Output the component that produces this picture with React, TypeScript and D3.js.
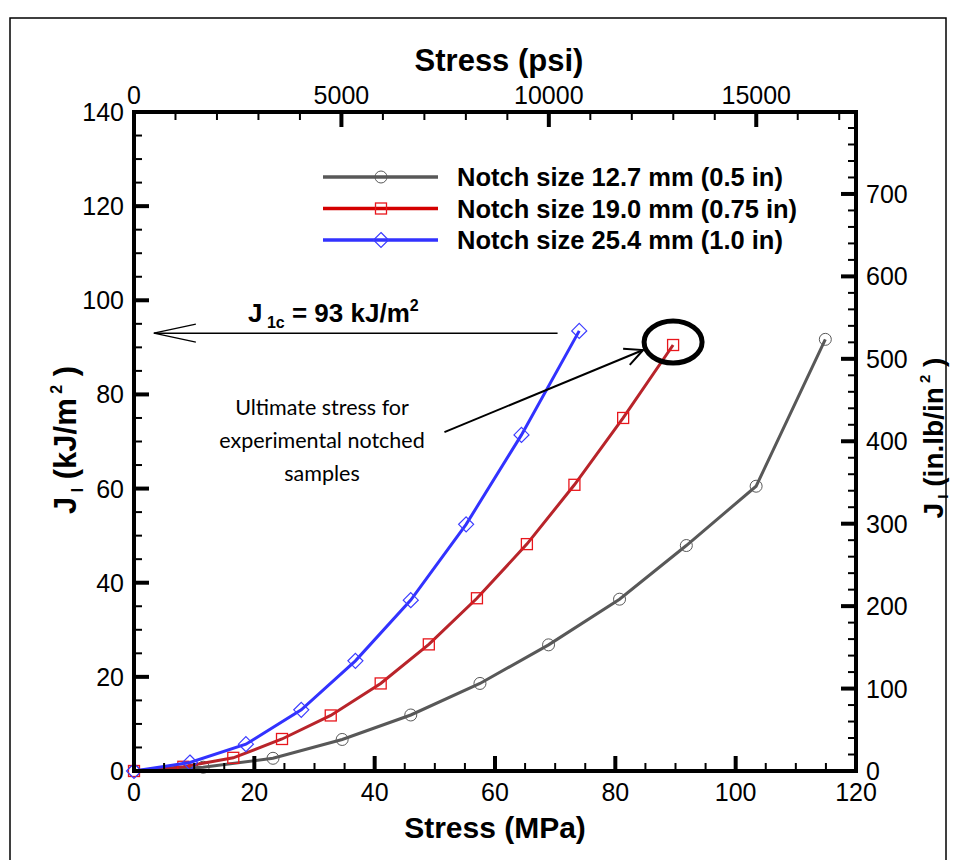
import * as d3 from "d3";

// notch 12.7 mm (0.5 in)
const grayStress = [0, 11.5, 23.1, 34.6, 46.0, 57.5, 68.9, 80.7, 91.8, 103.4, 114.9];
const grayJ = [0, 0.8, 2.7, 6.7, 11.9, 18.6, 26.8, 36.5, 47.9, 60.5, 91.7];
// notch 19.0 mm (0.75 in)
const redStress = [0, 8.2, 16.5, 24.6, 32.7, 41.0, 49.0, 57.0, 65.3, 73.2, 81.3, 89.6];
const redJ = [0, 0.9, 2.8, 6.8, 11.8, 18.6, 26.9, 36.7, 48.2, 60.8, 75.0, 90.5];
// notch 25.4 mm (1.0 in)
const blueStress = [0, 9.3, 18.6, 27.8, 36.8, 46.0, 55.2, 64.4, 74.0];
const blueJ = [0, 1.8, 5.7, 13.0, 23.4, 36.3, 52.4, 71.4, 93.5];

const seriesNames = [
  "Notch size 12.7 mm (0.5 in)",
  "Notch size 19.0 mm (0.75 in)",
  "Notch size 25.4 mm (1.0 in)",
];

const mpaTicks = [0, 20, 40, 60, 80, 100, 120];
const psiTicks = [0, 5000, 10000, 15000];
const kjTicks = [0, 20, 40, 60, 80, 100, 120, 140];
const inlbTicks = [100, 200, 300, 400, 500, 600, 700, 0];

const J1C = 93;
const PSI_PER_MPA = 145.0377;
const INLB_PER_KJ = 5.71015;

const W = 956;
const H = 860;
const left = 134;
const right = 856;
const top = 112;
const bottom = 771;

const font = "'Liberation Sans', Arial, sans-serif";

export default function App() {
  const x = d3.scaleLinear().domain([0, 120]).range([left, right]);
  const y = d3.scaleLinear().domain([0, 140]).range([bottom, top]);
  const xPsi = d3.scaleLinear().domain([0, 120 * PSI_PER_MPA]).range([left, right]);
  const yIn = d3.scaleLinear().domain([0, 140 * INLB_PER_KJ]).range([bottom, top]);

  const line = d3
    .line<[number, number]>()
    .x((d) => x(d[0]))
    .y((d) => y(d[1]))
    .curve(d3.curveLinear);

  const series = [
    { xs: grayStress, ys: grayJ, line: "#585858", mark: "#585858", shape: "circle" },
    { xs: redStress, ys: redJ, line: "#b8242a", mark: "#e8161c", shape: "square" },
    { xs: blueStress, ys: blueJ, line: "#3232ff", mark: "#3c3cff", shape: "diamond" },
  ];
  const legendLine = ["#585858", "#d40000", "#3232ff"];

  const marker = (shape: string, cx: number, cy: number, color: string, key: any) => {
    if (shape === "circle")
      return <circle key={key} cx={cx} cy={cy} r={6} fill="none" stroke={color} strokeWidth={1} />;
    if (shape === "square")
      return (
        <rect key={key} x={cx - 5.5} y={cy - 5.5} width={11} height={11} fill="none" stroke={color} strokeWidth={1.3} />
      );
    return (
      <path
        key={key}
        d={`M${cx},${cy - 7.5}L${cx + 7.5},${cy}L${cx},${cy + 7.5}L${cx - 7.5},${cy}Z`}
        fill="none"
        stroke={color}
        strokeWidth={1.2}
      />
    );
  };

  const minorMpa = d3.range(0, 121, 5).filter((v) => v % 20 !== 0);
  const minorPsi = d3.range(0, 120 * PSI_PER_MPA, 1000).filter((v) => v % 5000 !== 0);
  const minorKj = d3.range(0, 141, 5).filter((v) => v % 20 !== 0);
  const minorIn = d3.range(0, 140 * INLB_PER_KJ, 20).filter((v) => v % 100 !== 0);

  // J1c arrow
  const jy = y(J1C);
  const jx0 = x(3.3);
  const jx1 = x(70.4);

  // ultimate stress annotation
  const last = series[1];
  const ex = x(last.xs[last.xs.length - 1]);
  const ey = y(last.ys[last.ys.length - 1]) - 3;
  const ax0 = x(51.6);
  const ay0 = y(72.0);
  const ax1 = ex - 30;
  const ay1 = ey + 8;
  const ang = Math.atan2(ay0 - ay1, ax0 - ax1);
  const barb = (a: number, len: number) => `L${ax1 + len * Math.cos(ang + a)},${ay1 + len * Math.sin(ang + a)}`;

  return (
    <svg width={W} height={H} style={{ position: "absolute", left: 0, top: 0, background: "#fff" }} fontFamily={font}>
      <rect x={10} y={18} width={936} height={H} fill="none" stroke="#000" strokeWidth={1.5} />

      {/* series */}
      {series.map((s, i) => (
        <g key={i}>
          <path
            d={line(s.xs.map((v, j) => [v, s.ys[j]] as [number, number])) || ""}
            fill="none"
            stroke={s.line}
            strokeWidth={3}
          />
          {s.xs.map((v, j) => marker(s.shape, x(v), y(s.ys[j]), s.mark, j))}
        </g>
      ))}

      {/* frame */}
      <rect x={left} y={top} width={right - left} height={bottom - top} fill="none" stroke="#000" strokeWidth={4} />

      {/* bottom axis */}
      {mpaTicks.map((t) => (
        <g key={"b" + t}>
          <line x1={x(t)} x2={x(t)} y1={bottom} y2={bottom - 15} stroke="#000" strokeWidth={4} />
          <text x={x(t)} y={bottom + 30} textAnchor="middle" fontSize={25}>
            {t}
          </text>
        </g>
      ))}
      {minorMpa.map((t) => (
        <line key={"bm" + t} x1={x(t)} x2={x(t)} y1={bottom} y2={bottom - 8} stroke="#000" strokeWidth={2} />
      ))}

      {/* top axis */}
      {psiTicks.map((t) => (
        <g key={"t" + t}>
          <line x1={xPsi(t)} x2={xPsi(t)} y1={top} y2={top + 15} stroke="#000" strokeWidth={4} />
          <text x={xPsi(t)} y={top - 8} textAnchor="middle" fontSize={25}>
            {t}
          </text>
        </g>
      ))}
      {minorPsi.map((t) => (
        <line key={"tm" + t} x1={xPsi(t)} x2={xPsi(t)} y1={top} y2={top + 8} stroke="#000" strokeWidth={2} />
      ))}

      {/* left axis */}
      {kjTicks.map((t) => (
        <g key={"l" + t}>
          <line x1={left} x2={left + 15} y1={y(t)} y2={y(t)} stroke="#000" strokeWidth={4} />
          <text x={left - 10} y={y(t) + 9} textAnchor="end" fontSize={25}>
            {t}
          </text>
        </g>
      ))}
      {minorKj.map((t) => (
        <line key={"lm" + t} x1={left} x2={left + 8} y1={y(t)} y2={y(t)} stroke="#000" strokeWidth={2} />
      ))}

      {/* right axis */}
      {inlbTicks.map((t) => (
        <g key={"r" + t}>
          <line x1={right} x2={right - 15} y1={yIn(t)} y2={yIn(t)} stroke="#000" strokeWidth={4} />
          <text x={right + 10} y={yIn(t) + 9} textAnchor="start" fontSize={25}>
            {t}
          </text>
        </g>
      ))}
      {minorIn.map((t) => (
        <line key={"rm" + t} x1={right} x2={right - 8} y1={yIn(t)} y2={yIn(t)} stroke="#000" strokeWidth={2} />
      ))}

      {/* axis titles */}
      <text x={(left + right) / 2} y={838} textAnchor="middle" fontSize={30} fontWeight="bold">
        Stress (MPa)
      </text>
      <text x={(left + right) / 2 + 4} y={71} textAnchor="middle" fontSize={31} fontWeight="bold">
        Stress (psi)
      </text>
      <text transform={`translate(76,440) rotate(-90)`} textAnchor="middle" fontSize={31} fontWeight="bold">
        J
        <tspan fontSize={16} dy={7}>
          {"  I"}
        </tspan>
        <tspan dy={-7}>{"  (kJ/m"}</tspan>
        <tspan fontSize={16} dy={-14}>
          {" 2"}
        </tspan>
        <tspan dy={14}>{" )"}</tspan>
      </text>
      <text transform={`translate(943,438) rotate(-90)`} textAnchor="middle" fontSize={28} fontWeight="bold">
        J
        <tspan fontSize={15} dy={5}>
          {"  I"}
        </tspan>
        <tspan dy={-5}>{"  (in.lb/in"}</tspan>
        <tspan fontSize={15} dy={-13}>
          {" 2"}
        </tspan>
        <tspan dy={13}>{" )"}</tspan>
      </text>

      {/* legend */}
      {seriesNames.map((name, i) => {
        const ly = 177 + i * 31.5;
        return (
          <g key={name}>
            <line x1={323} x2={438} y1={ly} y2={ly} stroke={legendLine[i]} strokeWidth={3.5} />
            {marker(series[i].shape, 381, ly, series[i].mark, "m")}
            <text x={457} y={ly + 9} fontSize={25.5} fontWeight="bold">
              {name}
            </text>
          </g>
        );
      })}

      {/* J1c annotation */}
      <line x1={jx0} x2={jx1} y1={jy} y2={jy} stroke="#000" strokeWidth={1.3} />
      <path d={`M${jx0 + 42},${jy - 9}L${jx0},${jy}L${jx0 + 42},${jy + 9}`} fill="none" stroke="#000" strokeWidth={1.3} />
      <text x={248} y={322} fontSize={26} fontWeight="bold">
        J
        <tspan fontSize={16} dy={6}>
          {"  1c"}
        </tspan>
        <tspan dy={-6}>{" = 93 kJ/m"}</tspan>
        <tspan fontSize={16} dy={-11}>
          2
        </tspan>
      </text>

      {/* ultimate stress annotation */}
      <ellipse cx={ex} cy={ey} rx={29} ry={21} fill="none" stroke="#000" strokeWidth={5} />
      <line x1={ax0} y1={ay0} x2={ax1} y2={ay1} stroke="#000" strokeWidth={2} />
      <path d={`M${ax1 + 20 * Math.cos(ang + 0.45)},${ay1 + 20 * Math.sin(ang + 0.45)}L${ax1},${ay1}${barb(-0.45, 20)}`} fill="none" stroke="#000" strokeWidth={2} />
      {["Ultimate stress for", "experimental notched", "samples"].map((t, i) => (
        <text key={t} x={322} y={415 + i * 33} textAnchor="middle" fontSize={21.5} fontFamily="Lato, 'Open Sans', sans-serif">
          {t}
        </text>
      ))}
    </svg>
  );
}
